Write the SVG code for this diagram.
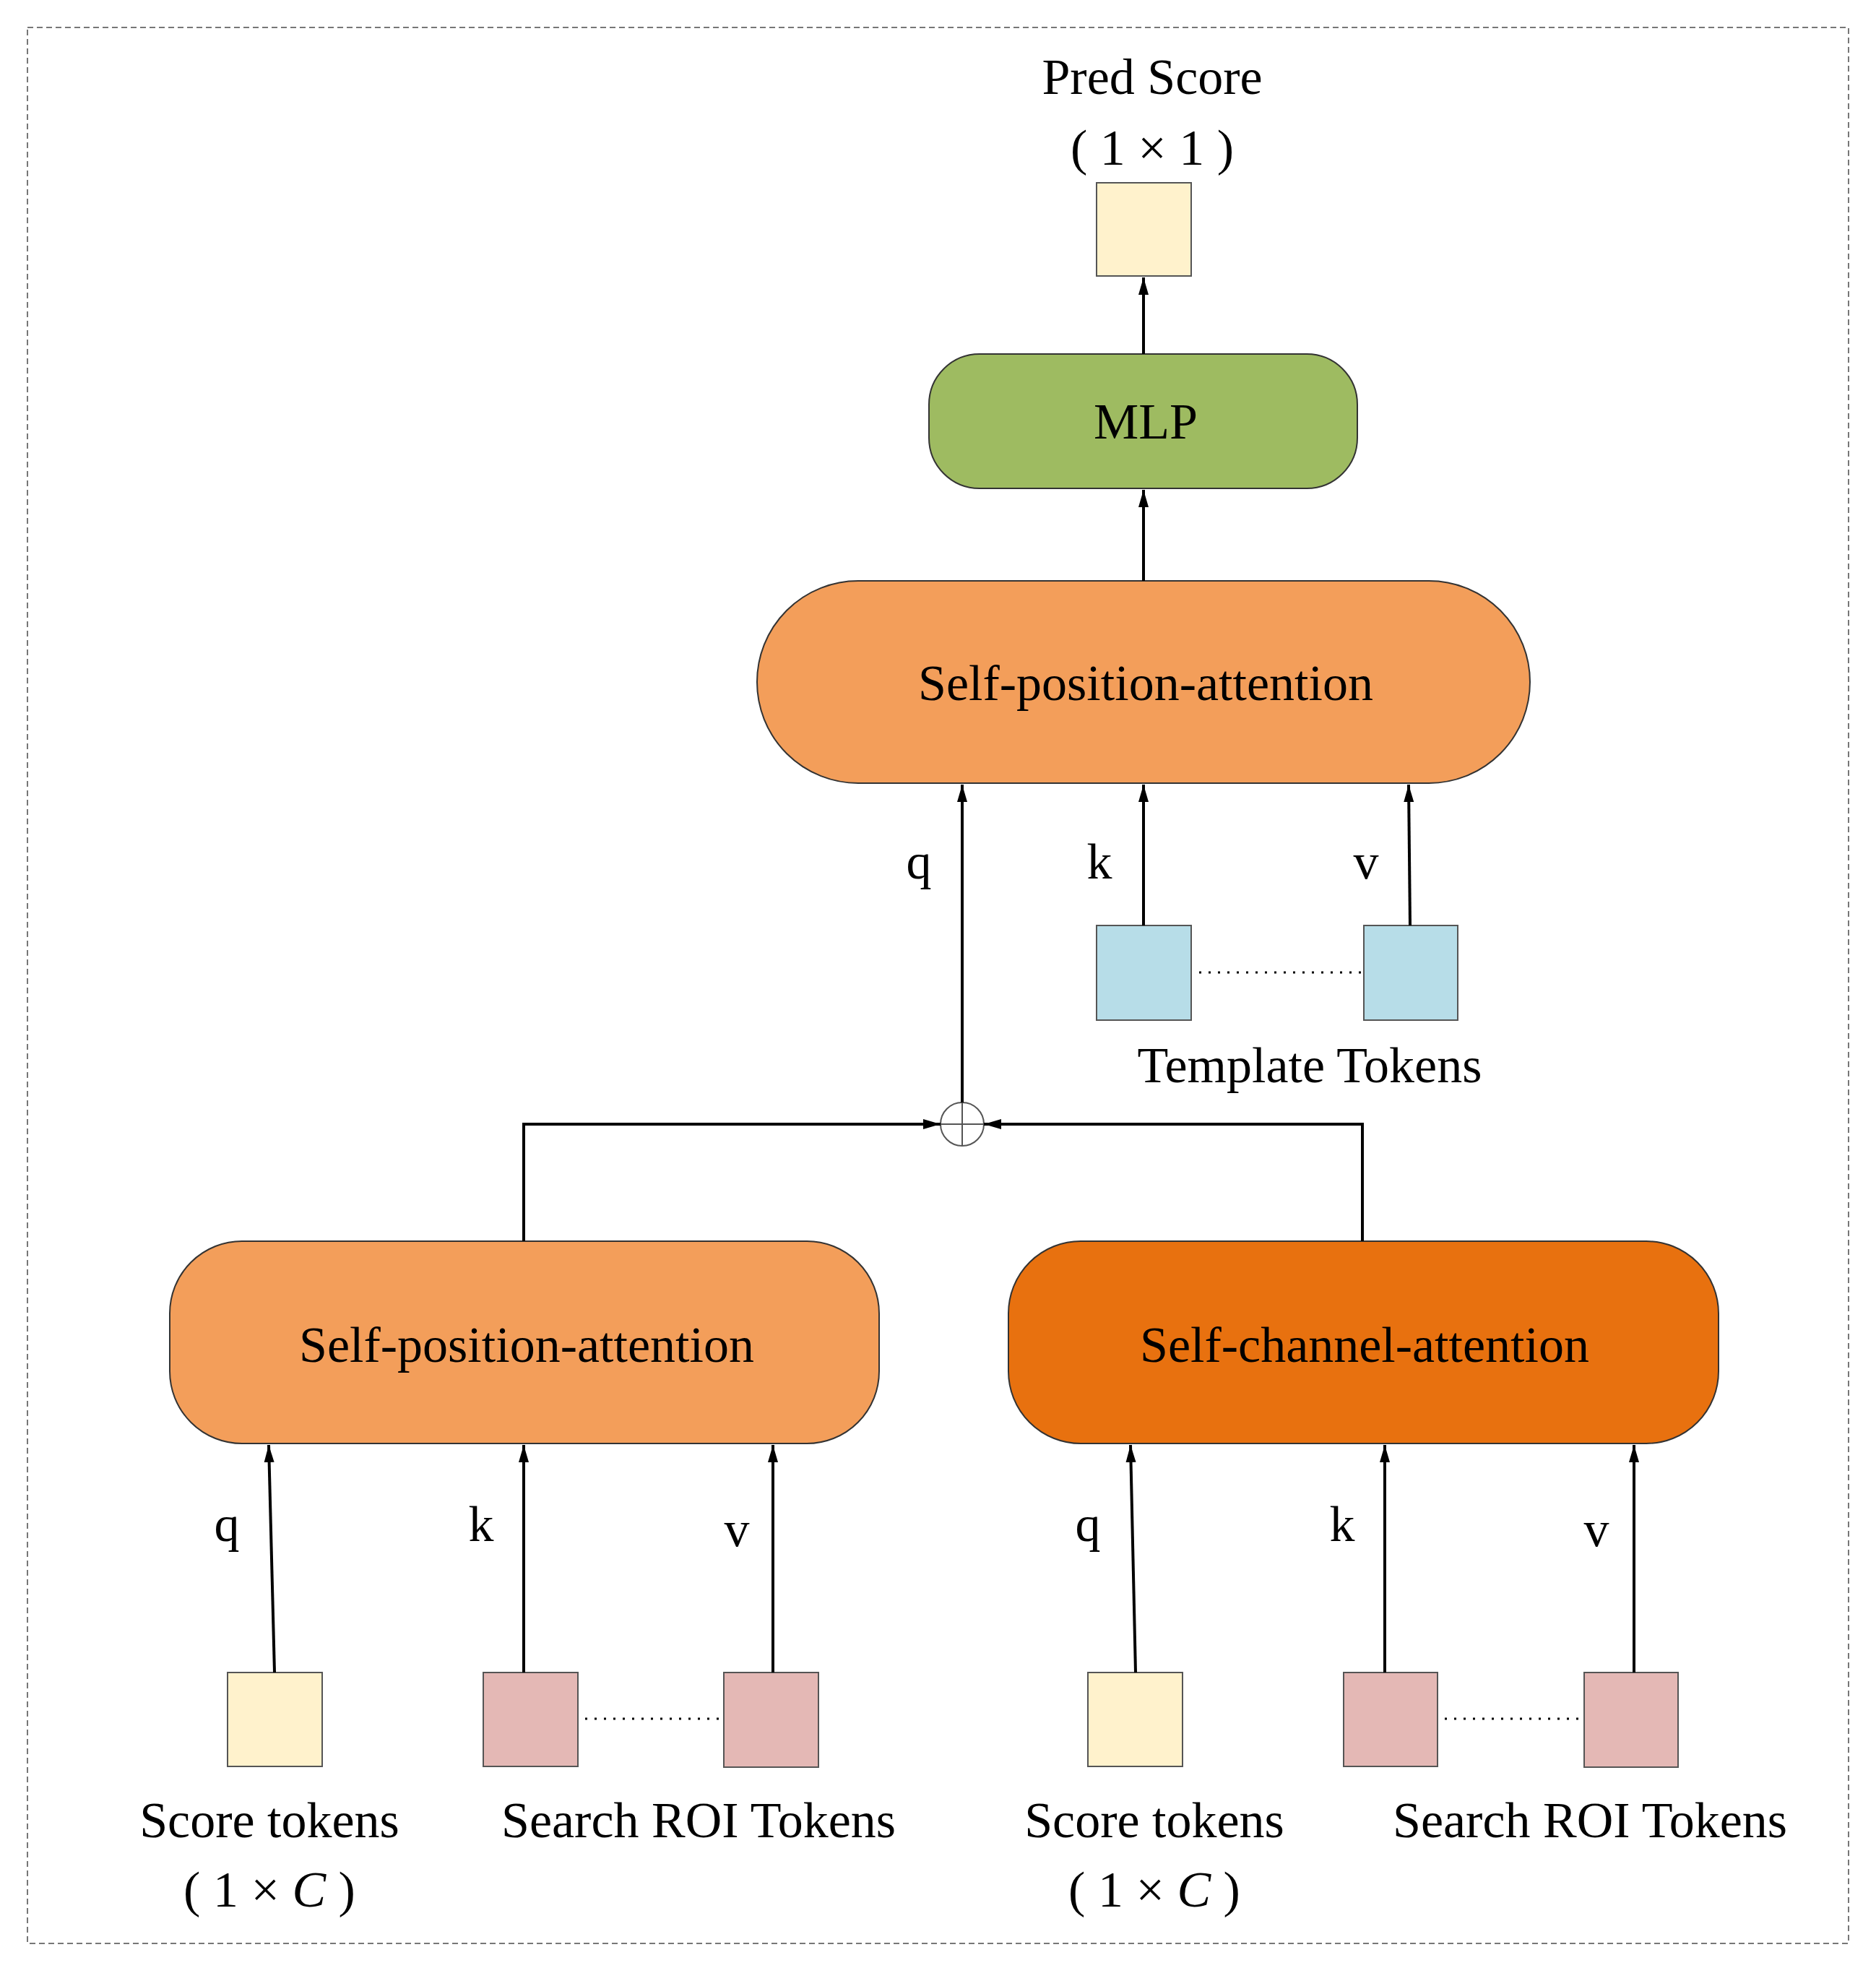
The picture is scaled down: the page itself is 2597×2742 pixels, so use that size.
<svg xmlns="http://www.w3.org/2000/svg" width="2597" height="2742" viewBox="0 0 2597 2742">
<style>
text{font-family:"Liberation Serif","Times New Roman",serif;font-size:70px;fill:#000;text-anchor:middle}
.c{stroke:#000;stroke-width:4;fill:none}
.tok{stroke:#555;stroke-width:2}
.dot{stroke:#000;stroke-width:3;stroke-dasharray:3 10}
.nd{stroke:#333;stroke-width:2}
</style>
<defs>
<marker id="a" viewBox="0 0 10 10" refX="10" refY="5" markerWidth="6" markerHeight="6" markerUnits="userSpaceOnUse" orient="auto" style="overflow:visible">
<path d="M0,0 L10,5 L0,10 z" fill="#000" transform="scale(2.4)" />
</marker>
<marker id="b" viewBox="0 0 24 24" refX="24" refY="12" markerWidth="24" markerHeight="24" markerUnits="userSpaceOnUse" orient="auto">
<path d="M0,5 L24,12 L0,19 z" fill="#000"/>
</marker>
</defs>
<rect x="38" y="38" width="2521" height="2652" fill="none" stroke="#777" stroke-width="2" stroke-dasharray="8 5"/>

<g id="pred">
<text x="1595" y="130">Pred Score</text>
<text x="1595" y="228">( 1 × 1 )</text>
<rect x="1518" y="253" width="131" height="129" fill="#FFF2CC" class="tok"/>
</g>
<g id="mlp"><rect x="1286" y="490" width="593" height="186" rx="70" fill="#9EBB61" class="nd"/><text x="1586" y="607">MLP</text></g>
<g id="spa_top"><rect x="1048" y="804" width="1070" height="280" rx="140" fill="#F39E5A" class="nd"/><text x="1586" y="969">Self-position-attention</text></g>
<g id="template">
<rect x="1518" y="1281" width="131" height="131" fill="#B7DDE8" class="tok"/>
<rect x="1888" y="1281" width="130" height="131" fill="#B7DDE8" class="tok"/>
<line x1="1660" y1="1346" x2="1888" y2="1346" class="dot"/>
<text x="1813" y="1498">Template Tokens</text>
</g>
<g id="sum"><circle cx="1332" cy="1556" r="30" fill="#fff" stroke="#555" stroke-width="2"/><line x1="1302" y1="1556" x2="1362" y2="1556" stroke="#555" stroke-width="2"/><line x1="1332" y1="1526" x2="1332" y2="1586" stroke="#555" stroke-width="2"/></g>
<g id="spa_left"><rect x="235" y="1718" width="982" height="280" rx="100" fill="#F39E5A" class="nd"/><text x="729" y="1885">Self-position-attention</text></g>
<g id="sca_right"><rect x="1396" y="1718" width="983" height="280" rx="100" fill="#E8710F" class="nd"/><text x="1889" y="1885">Self-channel-attention</text></g>
<g id="left_tokens">
<rect x="315" y="2315" width="131" height="130" fill="#FFF2CC" class="tok"/>
<rect x="669" y="2315" width="131" height="130" fill="#E4B8B5" class="tok"/>
<rect x="1002" y="2315" width="131" height="131" fill="#E4B8B5" class="tok"/>
<line x1="810" y1="2379" x2="1000" y2="2379" class="dot"/>
<text x="373" y="2543">Score tokens</text>
<text x="373" y="2639">( 1 × <tspan font-style="italic">C</tspan> )</text>
<text x="967" y="2543">Search ROI Tokens</text>
</g>
<g id="right_tokens">
<rect x="1506" y="2315" width="131" height="130" fill="#FFF2CC" class="tok"/>
<rect x="1860" y="2315" width="130" height="130" fill="#E4B8B5" class="tok"/>
<rect x="2193" y="2315" width="130" height="131" fill="#E4B8B5" class="tok"/>
<line x1="2000" y1="2379" x2="2190" y2="2379" class="dot"/>
<text x="1598" y="2543">Score tokens</text>
<text x="1598" y="2639">( 1 × <tspan font-style="italic">C</tspan> )</text>
<text x="2201" y="2543">Search ROI Tokens</text>
</g>
<g id="connectors">
<line x1="1583" y1="490" x2="1583" y2="384" class="c" marker-end="url(#b)"/>
<line x1="1583" y1="804" x2="1583" y2="678" class="c" marker-end="url(#b)"/>
<line x1="1332" y1="1526" x2="1332" y2="1086" class="c" marker-end="url(#b)"/>
<line x1="1583" y1="1281" x2="1583" y2="1086" class="c" marker-end="url(#b)"/>
<line x1="1952" y1="1281" x2="1950" y2="1086" class="c" marker-end="url(#b)"/>
<polyline points="725,1718 725,1556 1302,1556" class="c" marker-end="url(#b)"/>
<polyline points="1886,1718 1886,1556 1362,1556" class="c" marker-end="url(#b)"/>
<line x1="380" y1="2315" x2="372" y2="2000" class="c" marker-end="url(#b)"/>
<line x1="725" y1="2315" x2="725" y2="2000" class="c" marker-end="url(#b)"/>
<line x1="1070" y1="2315" x2="1070" y2="2000" class="c" marker-end="url(#b)"/>
<line x1="1572" y1="2315" x2="1565" y2="2000" class="c" marker-end="url(#b)"/>
<line x1="1917" y1="2315" x2="1917" y2="2000" class="c" marker-end="url(#b)"/>
<line x1="2262" y1="2315" x2="2262" y2="2000" class="c" marker-end="url(#b)"/>
<text x="1272" y="1216">q</text><text x="1522" y="1216">k</text><text x="1891" y="1216">v</text>
<text x="314" y="2133">q</text><text x="666" y="2133">k</text><text x="1020" y="2140">v</text>
<text x="1506" y="2133">q</text><text x="1858" y="2133">k</text><text x="2210" y="2140">v</text>
</g>
</svg>
